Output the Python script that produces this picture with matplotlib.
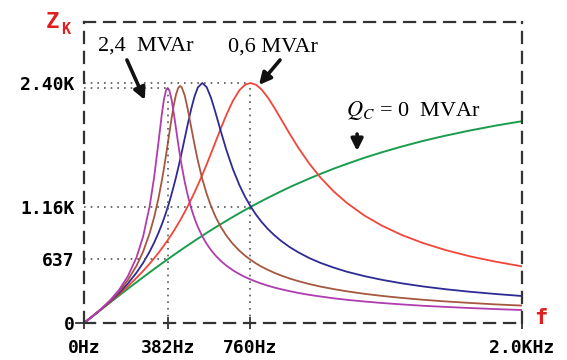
import matplotlib
matplotlib.use("Agg")
from matplotlib import pyplot as plt

plt.rcParams['mathtext.fontset'] = 'stix'

# frequency samples (Hz) and impedance (ohm)
freq = [0, 40, 80, 120, 160, 200, 240, 270, 300, 320, 340, 355, 365, 375, 382, 390, 400, 410, 420,
        430, 438, 446, 460, 475, 490, 505, 520, 540, 560, 580, 600, 625, 650, 680, 710, 735, 760,
        785, 810, 840, 870, 900, 940, 980, 1030, 1080, 1140, 1200, 1280, 1360, 1450, 1550, 1650,
        1760, 1880, 2000]

z_0mvar = [0, 69, 138, 206, 274, 342, 408, 458, 507, 539, 571, 595, 610, 626, 637, 649, 665, 680,
           696, 711, 723, 735, 756, 778, 800, 822, 844, 872, 901, 928, 956, 989, 1022, 1061, 1099,
           1130, 1160, 1189, 1218, 1252, 1285, 1317, 1359, 1398, 1446, 1491, 1543, 1591, 1652,
           1707, 1764, 1822, 1873, 1924, 1974, 2018]
z_24mvar = [0, 70, 144, 229, 331, 466, 657, 865, 1171, 1454, 1806, 2082, 2235, 2330, 2350, 2325,
            2233, 2098, 1946, 1794, 1680, 1574, 1410, 1265, 1144, 1044, 960, 867, 792, 729, 676,
            620, 574, 527, 488, 460, 436, 414, 394, 373, 354, 338, 318, 300, 281, 265, 247, 232,
            215, 200, 186, 172, 161, 150, 139, 130]
z_18mvar = [0, 70, 142, 223, 315, 428, 573, 714, 899, 1055, 1247, 1418, 1546, 1684, 1785, 1903,
            2047, 2179, 2284, 2350, 2370, 2358, 2275, 2125, 1951, 1780, 1622, 1441, 1292, 1168,
            1065, 960, 874, 790, 722, 674, 633, 596, 564, 531, 501, 475, 444, 418, 389, 364, 339,
            317, 292, 271, 251, 232, 216, 201, 186, 174]
z_12mvar = [0, 69, 141, 217, 300, 394, 504, 601, 715, 802, 901, 984, 1044, 1108, 1156, 1213, 1290,
            1371, 1457, 1549, 1625, 1704, 1847, 2001, 2145, 2268, 2356, 2400, 2359, 2252, 2108,
            1915, 1731, 1538, 1377, 1264, 1168, 1085, 1013, 939, 876, 821, 758, 705, 648, 601,
            554, 513, 469, 432, 397, 365, 338, 313, 290, 270]
z_06mvar = [0, 69, 139, 211, 287, 366, 452, 520, 594, 646, 701, 745, 775, 806, 828, 854, 887, 921,
            957, 993, 1023, 1054, 1110, 1173, 1239, 1308, 1380, 1481, 1586, 1696, 1808, 1947, 2081,
            2222, 2329, 2382, 2400, 2383, 2337, 2253, 2150, 2038, 1889, 1748, 1590, 1454, 1316,
            1201, 1075, 974, 881, 798, 730, 668, 613, 566]

xticks = [0, 382, 760, 2000]
xticklabels = ['0Hz', '382Hz', '760Hz', '2.0KHz']
yticks = [0, 637, 1160, 2400]
yticklabels = ['0', '637', '1.16K', '2.40K']

fig = plt.figure(figsize=(5.67, 3.6), dpi=100)
ax = fig.add_axes([84 / 567, 37 / 360, 438 / 567, 301 / 360])

ax.plot(freq, z_0mvar, color='#1a9c4c', lw=1.4)
ax.plot(freq, z_06mvar, color='#f0463a', lw=1.3)
ax.plot(freq, z_12mvar, color='#2e2a94', lw=1.3)
ax.plot(freq, z_18mvar, color='#a5573f', lw=1.3)
ax.plot(freq, z_24mvar, color='#b03cae', lw=1.3)

# dotted guide lines
dot = dict(color='#555555', lw=1.2, ls=(0, (1, 3)))
ax.plot([0, 760], [2400, 2400], **dot)
ax.plot([0, 382], [2350, 2350], **dot)
ax.plot([0, 760], [1160, 1160], **dot)
ax.plot([0, 382], [637, 637], **dot)
ax.plot([382, 382], [0, 2350], **dot)
ax.plot([760, 760], [0, 2400], **dot)

ax.set_xlim(0, 2000)
ax.set_ylim(0, 3010)
for s in ax.spines.values():
    s.set_linestyle((0, (5, 4)))
    s.set_linewidth(1.6)
    s.set_color('#333333')

tfont = dict(family='DejaVu Sans Mono', weight='bold', size=13)
ax.set_xticks(xticks)
ax.set_xticklabels(xticklabels, **tfont)
ax.set_yticks(yticks)
ax.set_yticklabels(yticklabels, **tfont)
ax.tick_params(axis='x', direction='inout', length=9, width=1.3, color='#333333', pad=7)
ax.tick_params(axis='y', length=0, pad=7)
ax.plot([-35, 0], [0, 0], color='#333333', lw=1.3, clip_on=False)

# axis names
fig.text(46 / 567, 1 - 28 / 360, 'Z', color='#e02020', fontsize=16, fontweight='bold',
         family='DejaVu Sans Mono')
fig.text(61 / 567, 1 - 34 / 360, 'K', color='#e02020', fontsize=11, fontweight='bold',
         family='DejaVu Sans Mono')
fig.text(534 / 567, 1 - 324 / 360, 'f', color='#e02020', fontsize=16, fontweight='bold',
         family='DejaVu Sans Mono')

# annotations
sfont = dict(family='Liberation Serif', size=16, ha='center', va='center')
ax.text(283, 2770, '2,4  MVAr', **sfont)
ax.text(863, 2760, '0,6 MVAr', **sfont)
ax.text(1505, 2130, '$Q_C$ = 0  MVAr', **sfont)
arr = dict(arrowstyle='-|>,head_length=0.7,head_width=0.35', lw=2.6, color='#111111',
           shrinkA=0, shrinkB=0)
ax.annotate('', xy=(278, 2230), xytext=(196, 2630), arrowprops=arr, annotation_clip=False)
ax.annotate('', xy=(799, 2380), xytext=(895, 2630), arrowprops=arr, annotation_clip=False)
ax.annotate('', xy=(1247, 1720), xytext=(1247, 1890), arrowprops=arr, annotation_clip=False)

fig.savefig('out.png', dpi=100)
